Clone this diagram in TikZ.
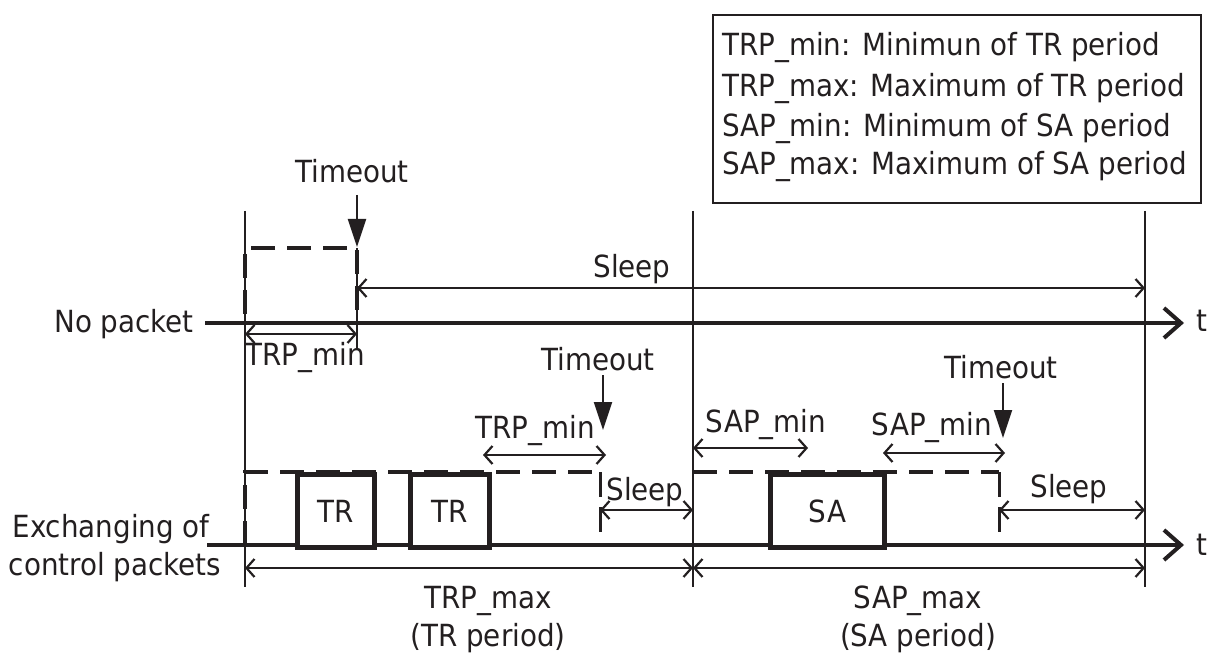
\documentclass[tikz,border=0pt]{standalone}
\usepackage{fontspec}
\setmainfont{DejaVu Sans}[FakeStretch=0.91]
\usetikzlibrary{arrows.meta}
\definecolor{ink}{HTML}{231F20}
\tikzset{
  thinl/.style={line width=2pt, draw=ink},
  axisl/.style={line width=4pt, draw=ink, -{Straight Barb[length=17pt,width=30pt]}},
  meas/.style={line width=2.2pt, draw=ink, {Straight Barb[length=8pt,width=18pt]}-{Straight Barb[length=8pt,width=18pt]}},
  tmo/.style={line width=2pt, draw=ink, -{Triangle[length=28pt,width=18pt]}},
  dsh/.style={line width=4pt, draw=ink, dash pattern=on 24pt off 12pt},
  dshthin/.style={line width=3pt, draw=ink, dash pattern=on 25pt off 10pt},
  boxs/.style={draw=ink, line width=5pt, fill=white, inner sep=0pt},
  lbl/.style={font=\fontsize{30.5}{35}\selectfont, inner sep=0pt, text=ink},
}
\begin{document}
\begin{tikzpicture}[x=1pt,y=-1pt]
\useasboundingbox (0,0) rectangle (1211,655);

% ---------- coordinates ----------
\coordinate (A1) at (245,211); \coordinate (A2) at (245,587);
\coordinate (B1) at (693,211); \coordinate (B2) at (693,587);
\coordinate (C1) at (1145,211); \coordinate (C2) at (1145,587);

% ---------- vertical period lines ----------
\draw[thinl] (A1) -- (A2);
\draw[thinl] (B1) -- (B2);
\draw[thinl] (C1) -- (C2);

% ---------- legend ----------
\node[draw=ink, line width=2pt, inner sep=0pt, minimum width=488pt, minimum height=188pt, anchor=north west] (leg) at (712,14) {};
\node[lbl, anchor=base west] (l1) at (722,56) {TRP\_min: Minimun of TR period};
\node[lbl, anchor=base west] (l2) at (722,97) {TRP\_max: Maximum of TR period};
\node[lbl, anchor=base west] (l3) at (722,137) {SAP\_min: Minimum of SA period};
\node[lbl, anchor=base west] (l4) at (722,175) {SAP\_max: Maximum of SA period};

% ---------- No packet timeline ----------
\coordinate (np0) at (205,323); \coordinate (np1) at (1184,323);
\draw[axisl] (np0) -- (np1);
\node[lbl, anchor=base east] (nplbl) at (194,333) {No packet};
\node[lbl, anchor=base west] (t1) at (1196,331) {t};

\coordinate (d1) at (245,323); \coordinate (d2) at (245,248);
\coordinate (d3) at (357,248); \coordinate (d4) at (357,310);
\coordinate (d5) at (357,350);
\draw[thinl] (d3) -- (d5);
\draw[dsh] (d4) -- (d3) -- (d2) -- (d1);

\node[lbl, anchor=base] (to1) at (352,183) {Timeout};
\coordinate (to1s) at (357,195); \coordinate (to1e) at (357,247);
\draw[tmo] (to1s) -- (to1e);

\coordinate (sl1a) at (357,288); \coordinate (sl1b) at (1145,288);
\draw[meas] (sl1a) -- (sl1b);
\node[lbl, anchor=base] (sl1) at (632,278) {Sleep};

\coordinate (tm1a) at (245,334); \coordinate (tm1b) at (357,334);
\draw[meas] (tm1a) -- (tm1b);
\node[lbl, anchor=base] (tm1) at (305,365) {TRP\_min};

% ---------- Exchanging timeline ----------
\coordinate (ex0) at (207,545); \coordinate (ex1) at (1184,545);
\draw[axisl] (ex0) -- (ex1);
\node[lbl, anchor=base] (exl1) at (111,537) {Exchanging of};
\node[lbl, anchor=base] (exl2) at (115,575) {control packets};
\node[lbl, anchor=base west] (t2) at (1196,555) {t};

\coordinate (e1) at (245,545); \coordinate (e2) at (245,472);
\coordinate (e3) at (600,472); \coordinate (e4) at (600,535);
\draw[dsh] (e1) -- (e2) -- (e3);
\draw[dshthin] (e3) -- (e4);

\coordinate (f1) at (693,472); \coordinate (f2) at (999,472);
\coordinate (f3) at (999,535);
\draw[dsh] (f1) -- (f2);
\draw[dshthin] (f2) -- (f3);

\node[boxs, minimum width=77pt, minimum height=73pt, anchor=north west] (tr1) at (295,472) {};
\node[lbl] at (tr1.center) {TR};
\node[boxs, minimum width=79pt, minimum height=73pt, anchor=north west] (tr2) at (408,472) {};
\node[lbl] at (tr2.center) {TR};
\node[boxs, minimum width=114pt, minimum height=73pt, anchor=north west] (sa) at (768,472) {};
\node[lbl] at (sa.center) {SA};

% Timeout 2
\node[lbl, anchor=base] (to2) at (598,370) {Timeout};
\coordinate (to2s) at (603,375); \coordinate (to2e) at (603,430);
\draw[tmo] (to2s) -- (to2e);
% TRP_min lower
\coordinate (tm2a) at (483,455); \coordinate (tm2b) at (606,455);
\draw[meas] (tm2a) -- (tm2b);
\node[lbl, anchor=base] (tm2) at (535,438) {TRP\_min};
% Sleep lower 1
\coordinate (sl2a) at (600,510); \coordinate (sl2b) at (693,510);
\draw[meas] (sl2a) -- (sl2b);
\node[lbl, anchor=base] (sl2) at (645,500) {Sleep};
% SAP_min 1
\coordinate (sm1a) at (693,448); \coordinate (sm1b) at (808,448);
\draw[meas] (sm1a) -- (sm1b);
\node[lbl, anchor=base] (sm1) at (766,432) {SAP\_min};
% SAP_min 2
\coordinate (sm2a) at (883,453); \coordinate (sm2b) at (1005,453);
\draw[meas] (sm2a) -- (sm2b);
\node[lbl, anchor=base] (sm2) at (932,435) {SAP\_min};
% Timeout 3
\node[lbl, anchor=base] (to3) at (1001,378) {Timeout};
\coordinate (to3s) at (1003,383); \coordinate (to3e) at (1003,438);
\draw[tmo] (to3s) -- (to3e);
% Sleep lower 2
\coordinate (sl3a) at (999,510); \coordinate (sl3b) at (1145,510);
\draw[meas] (sl3a) -- (sl3b);
\node[lbl, anchor=base] (sl3) at (1069,497) {Sleep};

% ---------- bottom periods ----------
\coordinate (p1a) at (245,568); \coordinate (p1b) at (693,568);
\coordinate (p2a) at (693,568); \coordinate (p2b) at (1145,568);
\draw[meas] (p1a) -- (p1b);
\draw[meas] (p2a) -- (p2b);
\node[lbl, anchor=base] (pm1) at (488,608) {TRP\_max};
\node[lbl, anchor=base] (pm1b) at (488,646) {(TR period)};
\node[lbl, anchor=base] (pm2) at (918,608) {SAP\_max};
\node[lbl, anchor=base] (pm2b) at (918,646) {(SA period)};
\end{tikzpicture}
\end{document}
